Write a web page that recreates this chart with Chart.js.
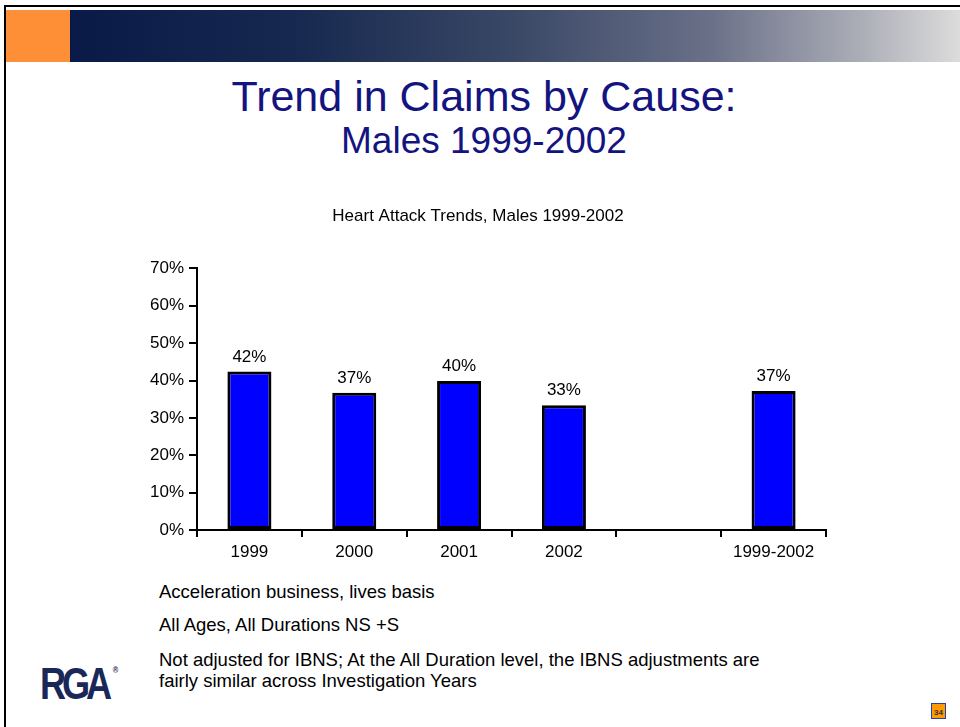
<!DOCTYPE html>
<html>
<head>
<meta charset="utf-8">
<script src="https://cdn.jsdelivr.net/npm/chart.js@4/dist/chart.umd.min.js"></script>
<style>
  body { margin: 0; width: 960px; height: 727px; background: #fff; position: relative; overflow: hidden;
         font-family: "Liberation Sans", Arial, sans-serif; }
  #topline { position: absolute; left: 4px; top: 5px; width: 956px; height: 2px; background: #000; }
  #leftline { position: absolute; left: 4px; top: 5px; width: 2px; height: 722px; background: #000; }
  #orange { position: absolute; left: 6px; top: 10px; width: 64px; height: 52px; background: #ff8f36; }
  #band { position: absolute; left: 70px; top: 10px; width: 890px; height: 52px;
          background: linear-gradient(to right, #0a1a48 0%, #16284f 25%, #3a4866 50%, #6a7088 72%, #a8aab4 88%, #dcdcdc 100%); }
  .title1 { position: absolute; left: 0; width: 968px; text-align: center; color: #141480; line-height: 1.15; }
  .note { position: absolute; left: 159px; font-size: 18.5px; color: #000; line-height: 21px; }
  #logo { position: absolute; left: 40px; top: 659px; font: bold 44px "Liberation Sans", Arial, sans-serif;
          color: #1a2858; letter-spacing: -5px; transform: scaleX(0.82); transform-origin: left top; }
  #logo sup { font-size: 9px; letter-spacing: 0; vertical-align: top; position: relative; top: 6px; left: 6px; }
  #page { position: absolute; left: 931px; top: 703px; width: 13px; height: 14px; background: #ff9a00;
          border: 1px solid #2040c0; font: bold 8px "Liberation Sans", Arial; color: #333; text-align: center; line-height: 18px; }
  #wrap { position: absolute; left: 130px; top: 198px; width: 710px; height: 380px; }
</style>
</head>
<body>
<div id="topline"></div>
<div id="leftline"></div>
<div id="orange"></div>
<div id="band"></div>
<div class="title1" style="top:72px;font-size:43px;">Trend in Claims by Cause:</div>
<div class="title1" style="top:120px;font-size:37px;">Males 1999-2002</div>
<div id="wrap"><canvas id="myChart"></canvas></div>
<div class="note" style="top:581px;">Acceleration business, lives basis</div>
<div class="note" style="top:614px;">All Ages, All Durations NS +S</div>
<div class="note" style="top:649px;">Not adjusted for IBNS; At the All Duration level, the IBNS adjustments are<br>fairly similar across Investigation Years</div>
<div id="logo">RGA<sup>®</sup></div>
<div id="page">34</div>
<script>
const categories = ["1999", "2000", "2001", "2002", "", "1999-2002"];
const heartAttackShare = [42.4, 36.7, 39.9, 33.4, null, 37.2];
const yTicks = [0, 10, 20, 30, 40, 50, 60, 70];

// percentage above each bar
const valueLabels = {
    id: "valueLabels",
    afterDatasetsDraw(chart) {
        const ctx = chart.ctx;
        const meta = chart.getDatasetMeta(0);
        ctx.save();
        ctx.font = "17px 'Liberation Sans', Arial, sans-serif";
        ctx.fillStyle = "#000";
        ctx.textAlign = "center";
        ctx.textBaseline = "bottom";
        meta.data.forEach((bar, i) => {
            const v = heartAttackShare[i];
            if (v == null) return;
            ctx.fillText(Math.round(v) + "%", bar.x, bar.y - 6);
        });
        ctx.restore();
    }
};

const ctx = document.getElementById("myChart").getContext("2d");
new Chart(ctx, {
    type: "bar",
    data: {
        labels: categories,
        datasets: [{
            label: "Heart Attack",
            data: heartAttackShare,
            backgroundColor: "#0000ff",
            borderColor: "#000",
            borderWidth: 3,
            borderSkipped: false,
            categoryPercentage: 1,
            barPercentage: 0.42
        }]
    },
    options: {
        responsive: true,
        maintainAspectRatio: false,
        animation: false,
        layout: { padding: { top: 0, right: 14, bottom: 0, left: 0 } },
        plugins: {
            legend: { display: false },
            tooltip: { enabled: false },
            title: {
                display: true,
                text: "Heart Attack Trends, Males 1999-2002",
                color: "#000",
                font: { family: "'Liberation Sans', Arial, sans-serif", size: 17, weight: "normal" },
                padding: { top: 8, bottom: 42 }
            }
        },
        scales: {
            x: {
                grid: { offset: true, drawOnChartArea: false, drawTicks: true, tickLength: 7, color: "#000", lineWidth: 2 },
                border: { display: true, color: "#000", width: 2 },
                ticks: { color: "#000", font: { family: "'Liberation Sans', Arial, sans-serif", size: 17 }, padding: 5 },
                afterFit: s => { s.height = 48; }
            },
            y: {
                min: 0,
                max: 70,
                afterBuildTicks: s => { s.ticks = yTicks.map(v => ({ value: v })); },
                grid: { drawOnChartArea: false, drawTicks: true, tickLength: 8, color: "#000", lineWidth: 2 },
                border: { display: true, color: "#000", width: 2 },
                ticks: { color: "#000", font: { family: "'Liberation Sans', Arial, sans-serif", size: 17 }, padding: 5,
                         callback: v => v + "%" },
                afterFit: s => { s.width = 67; }
            }
        }
    },
    plugins: [valueLabels]
});
</script>
</body>
</html>
